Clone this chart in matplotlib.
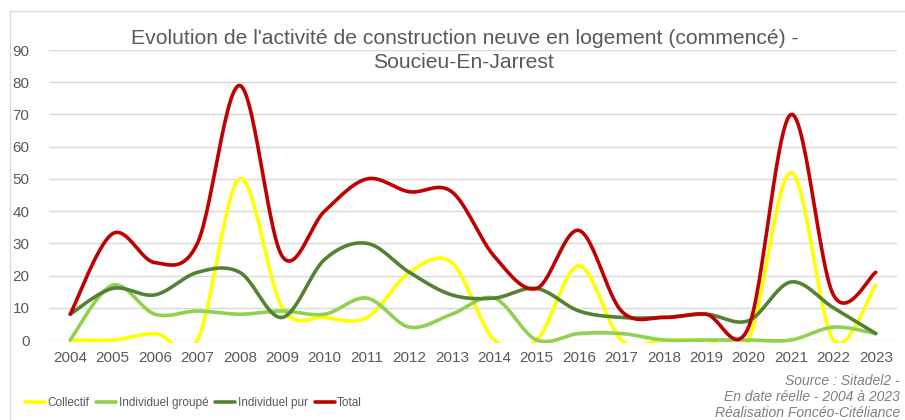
import numpy as np
import matplotlib
matplotlib.use('Agg')
import matplotlib.pyplot as plt
from matplotlib.patches import Rectangle

years = list(range(2004, 2024))
collectif = [0, 0, 2, 0, 50, 10, 7, 7, 21, 24, 0, 0, 23, 0, 0, 0, 0, 52, 0, 17]
indiv_groupe = [0, 17, 8, 9, 8, 9, 8, 13, 4, 8, 13, 0, 2, 2, 0, 0, 0, 0, 4, 2]
indiv_pur = [8, 16, 14, 21, 21, 7, 25, 30, 21, 14, 13, 16, 9, 7, 7, 8, 6, 18, 10, 2]
total = [8, 33, 24, 30, 79, 26, 40, 50, 46, 46, 26, 16, 34, 9, 7, 8, 4, 70, 14, 21]

series = [
    ('Collectif', collectif, '#FFFF00'),
    ('Individuel groupé', indiv_groupe, '#92D050'),
    ('Individuel pur', indiv_pur, '#548235'),
    ('Total', total, '#C00000'),
]

GREY = '#595959'
plt.rcParams['font.family'] = ['Liberation Sans', 'DejaVu Sans']


def smooth(x, y, n=30):
    # Excel-style smoothed line: cubic Bezier with Catmull-Rom control points
    x = np.asarray(x, float)
    y = np.asarray(y, float)
    xs, ys = [], []
    for i in range(len(x) - 1):
        p0 = np.array([x[max(i - 1, 0)], y[max(i - 1, 0)]])
        p1 = np.array([x[i], y[i]])
        p2 = np.array([x[i + 1], y[i + 1]])
        p3 = np.array([x[min(i + 2, len(x) - 1)], y[min(i + 2, len(x) - 1)]])
        c1 = p1 + (p2 - p0) / 6
        c2 = p2 - (p3 - p1) / 6
        t = np.linspace(0, 1, n)[:, None]
        pts = ((1 - t) ** 3) * p1 + 3 * ((1 - t) ** 2) * t * c1 + 3 * (1 - t) * t ** 2 * c2 + t ** 3 * p2
        xs.extend(pts[:, 0])
        ys.extend(pts[:, 1])
    return xs, ys


fig = plt.figure(figsize=(9.05, 4.2), dpi=100)
fig.patches.append(Rectangle((10 / 905, -0.1), 1.2, 1 - 11 / 420 + 0.1, transform=fig.transFigure,
                             fill=False, edgecolor='#D9D9D9', linewidth=0.9))
ax = fig.add_axes([49 / 905, 1 - 340 / 420, 848 / 905, 290 / 420])

clip = Rectangle((0, -0.012), 1, 1.05, transform=ax.transAxes, facecolor='none', edgecolor='none')
ax.add_patch(clip)
for label, vals, color in series:
    sx, sy = smooth(years, vals)
    line, = ax.plot(sx, sy, color=color, linewidth=2.6, label=label, solid_capstyle='round')
    line.set_clip_path(clip)

ax.set_xlim(2003.5, 2023.5)
ax.set_ylim(0, 90)
ax.set_yticks(range(0, 91, 10))
ax.set_xticks(years)
ax.grid(axis='y', color='#D9D9D9', linewidth=1)
ax.set_axisbelow(True)
for s in ax.spines.values():
    s.set_visible(False)
ax.tick_params(length=0, labelsize=11, colors=GREY)
ax.tick_params(axis='y', pad=14)
ax.tick_params(axis='x', pad=8)

# title (two lines, overlapping the top gridline like the original)
fig.text(465 / 905, 1 - 38 / 420, "Evolution de l'activité de construction neuve en logement (commencé) -",
         ha='center', va='center', fontsize=15.2, color=GREY)
fig.text(463 / 905, 1 - 62 / 420, "Soucieu-En-Jarrest",
         ha='center', va='center', fontsize=15.2, color=GREY)

leg_size = 8.5
leg = fig.legend(loc='center left', bbox_to_anchor=(25 / 905, 1 - 403 / 420), ncol=4, frameon=False,
                 prop={'size': leg_size}, borderpad=0, borderaxespad=0,
                 handlelength=20 / (leg_size * 100 / 72), handletextpad=0.2, columnspacing=0.6,
                 labelcolor=GREY)
for h in leg.get_lines():
    h.set_linewidth(2.6)

fig.text(900 / 905, 1 - 397 / 420, 'Source : Sitadel2 -\nEn date réelle - 2004 à 2023\nRéalisation Foncéo-Citéliance',
         ha='right', va='center', fontsize=10, style='italic', color='#7F7F7F', linespacing=1.2)

fig.savefig('out.png', dpi=100)
